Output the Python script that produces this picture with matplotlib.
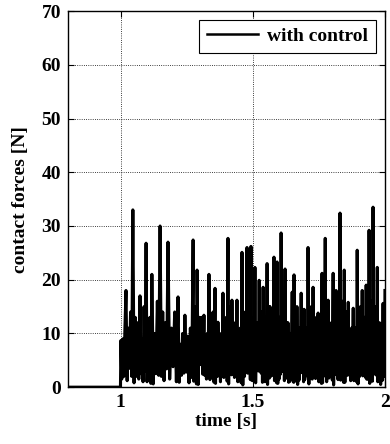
import numpy as np
import matplotlib
matplotlib.use('Agg')
import matplotlib.pyplot as plt

plt.rcParams['font.family'] = 'Liberation Serif'
plt.rcParams['font.weight'] = 'bold'

#signal before and at the switch-on time
t_pre = [0.8, 0.999, 1.001, 1.004, 1.008, 1.012, 1.016]
f_pre = [0, 0, 8.7, 1.5, 9, 2, 11]

#peak times and values
t_pk = [1.020, 1.046, 1.073, 1.096, 1.118, 1.149, 1.179, 1.217, 1.243, 1.274,
        1.289, 1.315, 1.334, 1.357, 1.368, 1.387, 1.406, 1.421, 1.440, 1.459,
        1.478, 1.493, 1.508, 1.524, 1.539, 1.554, 1.565, 1.580, 1.592, 1.607,
        1.622, 1.633, 1.649, 1.656, 1.667, 1.683, 1.694, 1.709, 1.728, 1.747,
        1.762, 1.774, 1.785, 1.804, 1.815, 1.830, 1.846, 1.861, 1.880, 1.895,
        1.914, 1.929, 1.940, 1.955, 1.971, 1.982, 1.993]
f_pk = [18, 33, 17, 26.8, 21, 30, 27, 16.8, 13.4, 27.4,
        21.8, 13.4, 21, 18.4, 12.1, 17.5, 27.7, 16.2, 16.2, 25.1,
        26, 26.2, 22.3, 19.9, 18.6, 23, 15, 24.2, 23.3, 28.7,
        22, 12, 17.7, 20.9, 15, 17.5, 14.5, 26, 18.6, 13.8,
        21.2, 27.7, 16.2, 21.2, 18, 32.4, 21.8, 15.8, 14.7, 25.5,
        18, 19, 29.2, 33.5, 22.3, 11.9, 15.6]
t_end = 2.0
f_end = 18

#oscillation between the peaks: troughs and the smaller swings between them
low1 = [1.2, 0.8, 2.5, 1.0, 0.6, 2.0, 1.5, 0.9, 2.8, 1.1,
        0.5, 2.2, 1.4, 0.7, 3.0, 1.8, 0.6, 2.4, 1.0, 0.4,
        2.6, 1.3, 0.8, 3.2, 1.5, 0.5, 2.0, 1.2, 0.7, 2.9,
        1.6, 0.9, 2.3, 1.1, 0.5, 2.7, 1.4, 0.6, 3.1, 1.0,
        0.8, 2.2, 1.7, 0.4, 2.5, 1.3, 0.9, 3.0, 1.2, 0.6,
        2.1, 1.5, 0.7, 2.8, 1.0, 0.5, 2.0]
mid1 = [11, 13, 9, 12, 10, 14, 11, 8, 9.5, 12,
        13, 8.5, 11, 10, 9, 12, 14, 10, 9, 12.5,
        13, 11, 10, 12, 11, 13, 9, 12, 11, 14,
        10, 8, 11, 12, 9, 11, 9.5, 13, 11, 8.5,
        12, 13, 10, 12, 11, 14, 12, 9.5, 9, 13,
        11, 12, 14, 13, 11, 8, 10]
low2 = [3.5, 2.0, 1.0, 4.0, 2.5, 1.2, 3.8, 2.2, 0.8, 3.0,
        4.2, 1.5, 2.7, 3.6, 1.0, 2.4, 4.5, 1.8, 3.0, 2.0,
        5.0, 1.2, 3.4, 2.6, 1.0, 4.0, 2.2, 3.3, 1.5, 4.6,
        2.0, 1.1, 3.7, 2.5, 1.3, 3.9, 2.1, 4.4, 1.6, 2.8,
        3.5, 1.0, 4.1, 2.3, 1.4, 3.6, 2.7, 1.2, 4.8, 2.0,
        3.2, 1.5, 3.9, 2.4, 1.1, 3.0, 2.0]
mid2 = [14, 12, 15, 13, 16, 12, 14, 10, 11, 15,
        13, 10, 14, 12, 10, 13, 15, 12, 11, 14,
        16, 13, 12, 14, 13, 15, 11, 14, 13, 16,
        12, 10, 13, 14, 11, 12, 11, 15, 13, 10,
        14, 15, 12, 13, 12, 16, 14, 11, 11, 15,
        13, 14, 16, 15, 12, 10, 12]
low3 = [2.0, 1.5, 3.0, 0.7, 2.2, 3.4, 1.0, 2.6, 1.8, 0.6,
        2.4, 3.1, 0.9, 2.0, 2.7, 1.1, 2.3, 3.5, 0.8, 2.9,
        1.4, 2.6, 3.0, 0.9, 2.5, 1.7, 3.3, 0.8, 2.4, 1.2,
        3.0, 2.3, 0.9, 2.8, 3.4, 1.0, 2.6, 1.5, 2.9, 0.7,
        2.1, 3.2, 1.3, 2.7, 3.0, 0.9, 2.2, 3.3, 1.0, 2.6,
        1.8, 3.1, 1.1, 2.2, 3.4, 1.3, 2.5]

#put the samples in time order
t = list(t_pre)
f = list(f_pre)
t_next = t_pk[1:] + [t_end]
for i in range(len(t_pk)):
    dt = (t_next[i] - t_pk[i]) / 6
    t += [t_pk[i] + k*dt for k in range(6)]
    f += [f_pk[i], low1[i], mid1[i], low2[i], mid2[i], low3[i]]
t.append(t_end)
f.append(f_end)

fig = plt.figure(figsize=(3.9, 4.44), dpi=100)
ax = fig.add_axes([0.174, 0.128, 0.813, 0.847])
ax.plot(t, f, color='k', lw=2.2, label='with control')

ax.set_xlim(0.8, 2)
ax.set_ylim(0, 70)
ax.set_xticks([1, 1.5, 2])
ax.set_xticklabels(['1', '1.5', '2'])
ax.set_yticks(np.arange(0, 71, 10))
ax.grid(True, color='k', linestyle=':', linewidth=0.6)
ax.tick_params(direction='in', top=True, right=True, labelsize=14, length=4, pad=5)
for s in ax.spines.values():
    s.set_linewidth(1)
ax.set_xlabel('time [s]', fontsize=14, fontweight='bold', labelpad=1)
ax.set_ylabel('contact forces [N]', fontsize=14, fontweight='bold', labelpad=9)

leg = ax.legend(loc='upper right', fontsize=14, fancybox=False, framealpha=1,
                edgecolor='k', borderaxespad=0.45, handlelength=2.6,
                borderpad=0.4, handletextpad=0.5)
leg.get_frame().set_linewidth(0.8)
for line in leg.get_lines():
    line.set_linewidth(1.8)

fig.savefig('out.png', dpi=100)
